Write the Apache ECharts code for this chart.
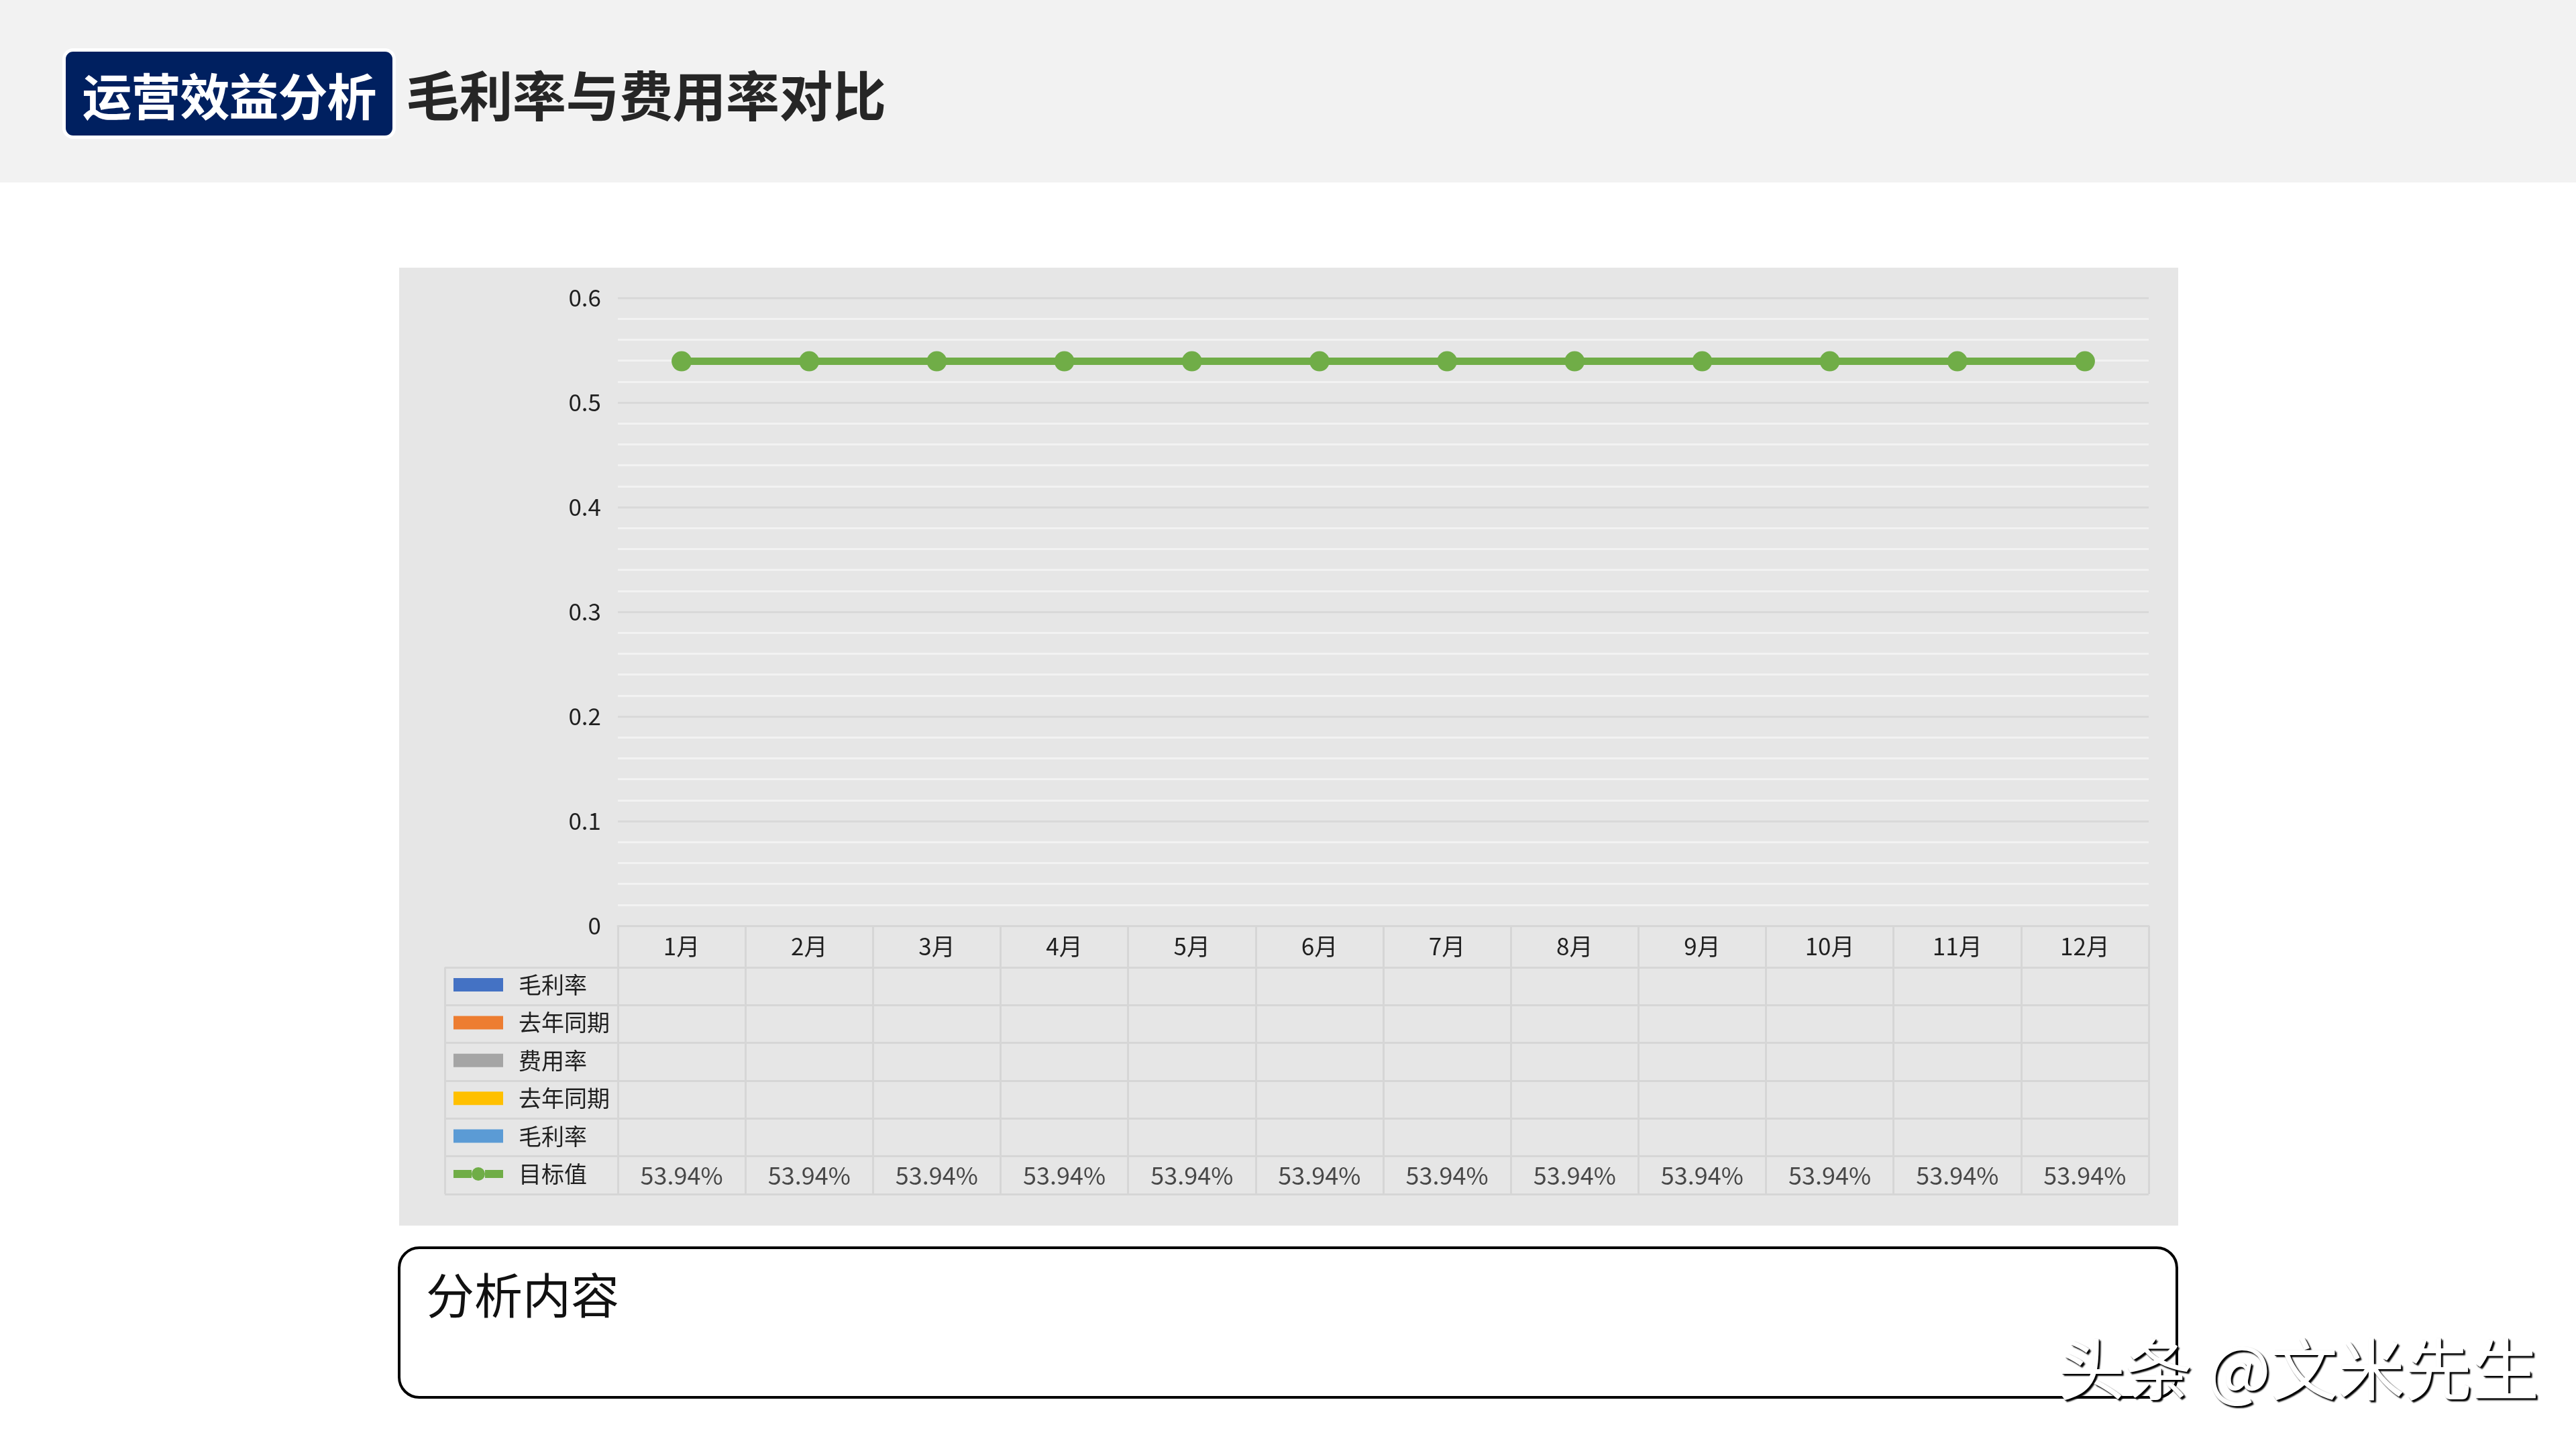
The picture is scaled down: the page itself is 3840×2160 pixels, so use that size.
<!DOCTYPE html>
<html>
<head>
<meta charset="utf-8">
<script src="https://cdn.jsdelivr.net/npm/echarts@6/dist/echarts.min.js"></script>
<style>
  html, body { margin: 0; padding: 0; background: #ffffff; }
  body { width: 3840px; height: 2160px; position: relative; overflow: hidden; font-family: "Noto Sans CJK SC", sans-serif; }
  #band { position: absolute; left: 0; top: 0; width: 3840px; height: 272px; background: #f2f2f2; }
  #tag { position: absolute; left: 93px; top: 72px; width: 497px; height: 135px; box-sizing: border-box; border: 5px solid #ffffff; border-radius: 16px; background: #002060; color: #ffffff; font-weight: 700; font-size: 74px; display: flex; align-items: center; justify-content: center; letter-spacing: -1px; }
  #title { position: absolute; left: 605px; top: 70px; height: 135px; display: flex; align-items: center; font-size: 80px; font-weight: 700; color: #262626; letter-spacing: -0.5px; }
  #chart { position: absolute; left: 595px; top: 399px; width: 2652px; height: 1428px; background: #e6e6e6; }
  #note { position: absolute; left: 593px; top: 1858px; width: 2654px; height: 227px; box-sizing: border-box; border: 4px solid #000; border-radius: 32px; background: #fff; }
  #note span { position: absolute; left: 38px; top: 22px; font-size: 72px; line-height: 1.2; color: #111; }
  #mark { position: absolute; left: 3068px; top: 1976px; font-size: 100px; line-height: 1.2; color: #ffffff; text-shadow: 3px 3px 2px #000, 1px 1px 1px #000; white-space: pre; }
</style>
</head>
<body>
<div id="band"></div>
<div id="tag">运营效益分析</div>
<div id="title">毛利率与费用率对比</div>
<div id="chart"></div>
<div id="note"><span>分析内容</span></div>
<div id="mark">头条 @文米先生</div>
<script>
// ---- data ----
const months = ['1月','2月','3月','4月','5月','6月','7月','8月','9月','10月','11月','12月'];
const rowNames = ['毛利率','去年同期','费用率','去年同期\u200B','毛利率\u200B','目标值'];
const rowColors = ['#4472c4','#ed7d31','#a5a5a5','#ffc000','#5b9bd5','#70ad47'];
const grossMargin = [];
const grossMarginLastYear = [];
const expenseRate = [];
const expenseRateLastYear = [];
const grossMargin2 = [];
const targetValues = [0.5394,0.5394,0.5394,0.5394,0.5394,0.5394,0.5394,0.5394,0.5394,0.5394,0.5394,0.5394];
const yTicks = { min: 0, max: 0.6, interval: 0.1 };

const lineC = '#d6d6d6';
const txt = '#1f1f1f';
const ff = '"Noto Sans CJK SC", sans-serif';
const lineKeyIcon = 'path://M0,4 L27,4 L27,16 L0,16 Z M47,4 L74,4 L74,16 L47,16 Z M27,10 A10,10 0 1,1 47,10 A10,10 0 1,1 27,10 Z';

const chart = echarts.init(document.getElementById('chart'));
const barData = [grossMargin, grossMarginLastYear, expenseRate, expenseRateLastYear, grossMargin2];

const series = barData.map((d, i) => ({
  name: rowNames[i], type: 'bar', xAxisIndex: 0, yAxisIndex: 0,
  data: d, itemStyle: { color: rowColors[i] }
}));
series.push({
  name: rowNames[5], type: 'line', xAxisIndex: 0, yAxisIndex: 0,
  data: targetValues, symbol: 'circle', symbolSize: 30,
  lineStyle: { color: rowColors[5], width: 11 },
  itemStyle: { color: rowColors[5] }
});
series.push({
  type: 'scatter', xAxisIndex: 1, yAxisIndex: 1, symbolSize: 0, silent: true,
  data: targetValues.map((v, i) => [months[i], rowNames[5], v]),
  label: { show: true, position: 'inside', fontSize: 36, color: txt, fontFamily: ff,
    formatter: p => (p.value[2] * 100).toFixed(2) + '%' }
});

chart.setOption({
  animation: false,
  textStyle: { fontFamily: ff },
  grid: [
    { left: 326, top: 45, width: 2282, height: 936 },
    { left: 326, top: 1043, width: 2282, height: 338 },
    { left: 68, top: 1043, width: 258, height: 338 }
  ],
  legend: {
    orient: 'vertical', left: 81, top: 1052, padding: 0, selectedMode: false,
    itemWidth: 74, itemHeight: 20, itemGap: 22.4,
    textStyle: { fontSize: 34, color: txt, padding: [0, 0, 0, 18], fontFamily: ff },
    data: rowNames.map((n, i) => i < 5 ? { name: n, icon: 'rect' } : { name: n, icon: lineKeyIcon })
  },
  xAxis: [
    { gridIndex: 0, type: 'category', data: months,
      axisLine: { show: true, lineStyle: { color: lineC, width: 3 } },
      axisTick: { show: true, length: 62, interval: 0, lineStyle: { color: lineC, width: 3 } },
      axisLabel: { fontSize: 35, color: txt, margin: 13, interval: 0 },
      splitLine: { show: false } },
    { gridIndex: 1, type: 'category', data: months,
      axisLine: { show: false }, axisTick: { show: false }, axisLabel: { show: false },
      splitLine: { show: true, interval: 0, lineStyle: { color: lineC, width: 3 } } },
    { gridIndex: 2, type: 'category', data: [''],
      axisLine: { show: false }, axisTick: { show: false }, axisLabel: { show: false },
      splitLine: { show: true, interval: 0, lineStyle: { color: lineC, width: 3 } } }
  ],
  yAxis: [
    { gridIndex: 0, type: 'value', min: yTicks.min, max: yTicks.max, interval: yTicks.interval,
      axisLine: { show: false }, axisTick: { show: false },
      axisLabel: { fontSize: 35, color: txt, margin: 25 },
      splitLine: { show: true, lineStyle: { color: '#d9d9d9', width: 3 } },
      minorTick: { show: false, splitNumber: 5 },
      minorSplitLine: { show: true, lineStyle: { color: '#f2f2f2', width: 3 } } },
    { gridIndex: 1, type: 'category', data: rowNames, inverse: true,
      axisLine: { show: false }, axisTick: { show: false }, axisLabel: { show: false },
      splitLine: { show: true, interval: 0, lineStyle: { color: lineC, width: 3 } } },
    { gridIndex: 2, type: 'category', data: rowNames, inverse: true,
      axisLine: { show: false }, axisTick: { show: false }, axisLabel: { show: false },
      splitLine: { show: true, interval: 0, lineStyle: { color: lineC, width: 3 } } }
  ],
  series: series
});
</script>
</body>
</html>
